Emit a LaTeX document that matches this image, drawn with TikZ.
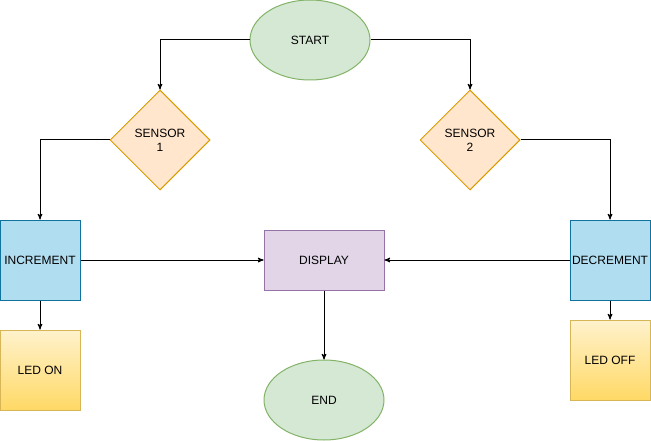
\documentclass[tikz,border=0pt]{standalone}
\usepackage{fontspec}
\setmainfont{Liberation Sans}
\usepackage{tikz}
\usetikzlibrary{arrows,shapes}
\usetikzlibrary{positioning}
\usetikzlibrary{calc}

\definecolor{grnfill}{HTML}{D5E8D4}
\definecolor{grnline}{HTML}{82B366}
\definecolor{orgfill}{HTML}{FFE6CC}
\definecolor{orgline}{HTML}{D79B00}
\definecolor{blufill}{HTML}{B1DDF0}
\definecolor{bluline}{HTML}{10739E}
\definecolor{purfill}{HTML}{E1D5E7}
\definecolor{purline}{HTML}{9673A6}
\definecolor{yeltop}{HTML}{FFF2CC}
\definecolor{yelbot}{HTML}{FFD966}
\definecolor{yelline}{HTML}{D6B656}

\begin{document}
\begin{tikzpicture}[x=1pt,y=-1pt,line width=1pt,
  font=\fontsize{12}{14}\selectfont,
  term/.style={ellipse,draw=grnline,fill=grnfill,minimum width=120pt,minimum height=80pt,inner sep=0pt},
  sensor/.style={diamond,draw=orgline,fill=orgfill,minimum width=100pt,minimum height=100pt,inner sep=0pt,align=center},
  counter/.style={rectangle,draw=bluline,fill=blufill,minimum width=80pt,minimum height=80pt,inner sep=0pt},
  led/.style={rectangle,draw=yelline,top color=yeltop,bottom color=yelbot,minimum width=80pt,minimum height=80pt,inner sep=0pt},
  link/.style={->,>=stealth',black}]
\useasboundingbox (0,0) rectangle (651,441);
\node [term] (start) at (310,40) {START};
\node [sensor] (sa) at (160,140) {SENSOR\\1};
\node [sensor] (sb) at (470,140) {SENSOR\\2};
\node [counter] (inc) at (40,260) {INCREMENT};
\node [counter] (dec) at (610,260) {DECREMENT};
\node [rectangle,draw=purline,fill=purfill,minimum width=120pt,minimum height=60pt] (disp) at (324,260) {DISPLAY};
\node [led] (ledon) at (40,370) {LED ON};
\node [led] (ledoff) at (610,360) {LED OFF};
\node [term] (fin) at (324,400) {END};

\draw [link] (start.west) -| (sa.north);
\draw [link] (start.east) -| (sb.north);
\draw [link] (sa.west) -| (inc.north);
\draw [link] (sb.east) -| (dec.north);
\draw [link] (inc.east) -- (disp.west);
\draw [link] (dec.west) -- (disp.east);
\draw [link] (inc.south) -- (ledon.north);
\draw [link] (dec.south) -- (ledoff.north);
\draw [link] (disp.south) -- (fin.north);
\end{tikzpicture}
\end{document}
